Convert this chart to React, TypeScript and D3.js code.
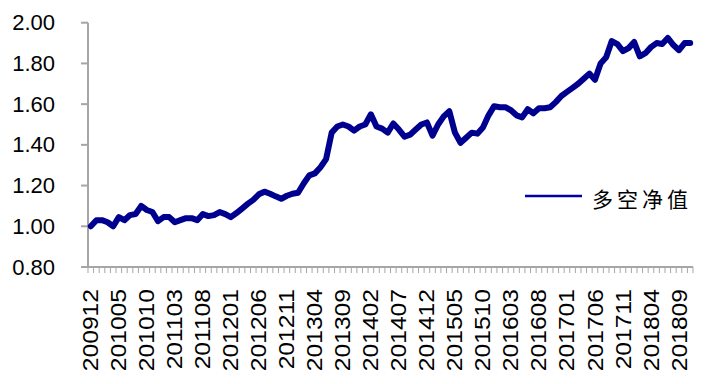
import React from "react";
import * as d3 from "d3";

const startYear = 2009;
const startMonth = 12;
const seriesName = "多空净值";
const yTicks = [0.8, 1.0, 1.2, 1.4, 1.6, 1.8, 2.0];
const values = [
  1.0, 1.03, 1.03, 1.02, 1.0, 1.045, 1.03, 1.055, 1.06, 1.1,
  1.08, 1.07, 1.025, 1.045, 1.045, 1.02, 1.03, 1.04, 1.04, 1.03,
  1.06, 1.05, 1.055, 1.07, 1.06, 1.045, 1.065, 1.087, 1.11, 1.13,
  1.157, 1.17, 1.16, 1.147, 1.135, 1.15, 1.16, 1.165, 1.21, 1.25,
  1.26, 1.29, 1.33, 1.46, 1.49, 1.5, 1.49, 1.47, 1.49, 1.5,
  1.55, 1.49, 1.48, 1.46, 1.505, 1.475, 1.44, 1.45, 1.475, 1.5,
  1.51, 1.445, 1.5, 1.54, 1.565, 1.46, 1.41, 1.435, 1.46, 1.455,
  1.485, 1.545, 1.59, 1.585, 1.585, 1.57, 1.545, 1.535, 1.575, 1.555,
  1.58, 1.58, 1.585, 1.61, 1.64, 1.66, 1.68, 1.7, 1.725, 1.75,
  1.72, 1.8, 1.83, 1.91, 1.895, 1.86, 1.875, 1.905, 1.835, 1.85,
  1.88, 1.9, 1.895, 1.925, 1.89, 1.865, 1.9, 1.9,
];

const categories = values.map((_, i) => {
  const m0 = startMonth - 1 + i;
  const y = startYear + Math.floor(m0 / 12);
  const m = (m0 % 12) + 1;
  return `${y}${m < 10 ? "0" + m : m}`;
});

export default function App() {
  const W = 705;
  const H = 384;
  const left = 88;
  const right = 693;
  const x = d3.scaleBand<string>().domain(categories).range([left, right]).padding(0);
  const y = d3.scaleLinear().domain([0.8, 2.0]).range([267, 22.7]);
  const line = d3
    .line<number>()
    .x((_, i) => (x(categories[i]) as number) + x.bandwidth() / 2)
    .y((d) => y(d))
    .curve(d3.curveLinear);
  const color = "#00008f";
  const axisColor = "#a6a6a6";
  const font = "'Liberation Sans', Arial, Helvetica, sans-serif";
  const bounds = d3.range(categories.length + 1).map((i) => left + i * x.bandwidth());

  return (
    <svg
      width={W}
      height={H}
      style={{ position: "absolute", left: 0, top: 0, background: "#fff" }}
    >
      <rect x={0} y={0} width={W} height={H} fill="#fff" />
      {/* y axis */}
      <line x1={left} x2={left} y1={y(2.0)} y2={y(0.8)} stroke={axisColor} strokeWidth={2} />
      {yTicks.map((t) => (
        <g key={t}>
          <line x1={left - 7} x2={left} y1={y(t)} y2={y(t)} stroke={axisColor} strokeWidth={2} />
          <text
            x={55}
            y={y(t)}
            textAnchor="end"
            dominantBaseline="central"
            fontFamily={font}
            fontSize={22}
            fill="#000"
          >
            {t.toFixed(2)}
          </text>
        </g>
      ))}
      {/* x axis */}
      <line x1={left} x2={right} y1={y(0.8)} y2={y(0.8)} stroke={axisColor} strokeWidth={2} />
      {bounds.map((b, i) => (
        <line key={i} x1={b} x2={b} y1={y(0.8)} y2={y(0.8) + 6} stroke={axisColor} strokeWidth={1} />
      ))}
      {categories.map((c, i) =>
        i % 5 === 0 ? (
          <text
            key={c}
            transform={`translate(${(x(c) as number) + x.bandwidth() / 2},289) rotate(-90) scale(1.12,1)`}
            textAnchor="end"
            dominantBaseline="central"
            fontFamily={font}
            fontSize={22}
            fill="#000"
          >
            {c}
          </text>
        ) : null
      )}
      {/* series */}
      <path
        d={line(values) || ""}
        fill="none"
        stroke={color}
        strokeWidth={6}
        strokeLinejoin="round"
        strokeLinecap="round"
      />
      {/* legend */}
      <line x1={525} x2={582} y1={196} y2={196} stroke="#0000a8" strokeWidth={2.5} />
      <text
        x={592}
        y={198}
        dominantBaseline="central"
        fontFamily="'Noto Sans CJK SC', sans-serif"
        fontSize={21}
        letterSpacing={4}
        fill="#000"
      >
        {seriesName}
      </text>
    </svg>
  );
}
